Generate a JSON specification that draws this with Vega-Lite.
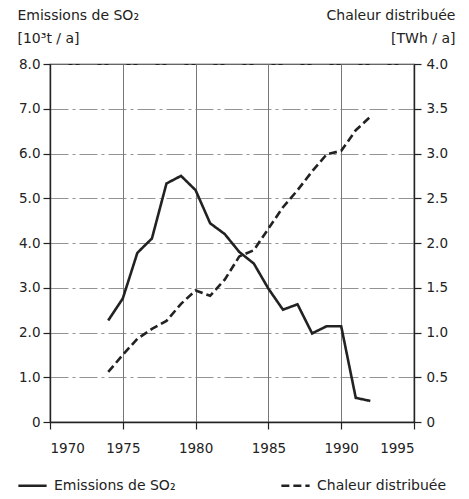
{
  "$schema": "https://vega.github.io/schema/vega-lite/v6.json",
  "width": 364,
  "height": 358,
  "autosize": "none",
  "padding": {"left": 50, "top": 64, "right": 55, "bottom": 77},
  "background": "white",
  "config": {
    "font": "DejaVu Sans",
    "view": {"stroke": "#222", "strokeWidth": 1.2},
    "axis": {
      "labelFont": "DejaVu Sans",
      "labelFontSize": 13.5,
      "labelColor": "#222",
      "titleFont": "DejaVu Sans",
      "titleFontSize": 14,
      "titleFontWeight": "normal",
      "titleColor": "#222",
      "domainColor": "#222",
      "domainWidth": 1.4,
      "tickColor": "#222",
      "tickWidth": 1.2,
      "tickSize": 7
    },
    "legend": {
      "labelFont": "DejaVu Sans",
      "labelFontSize": 14,
      "labelColor": "#222"
    }
  },
  "data": {
    "values": [
      {"year": 1974, "so2": 2.27, "heat": 0.56},
      {"year": 1975, "so2": 2.76, "heat": 0.75},
      {"year": 1976, "so2": 3.78, "heat": 0.93},
      {"year": 1977, "so2": 4.1, "heat": 1.04},
      {"year": 1978, "so2": 5.33, "heat": 1.13},
      {"year": 1979, "so2": 5.5, "heat": 1.32},
      {"year": 1980, "so2": 5.18, "heat": 1.47},
      {"year": 1981, "so2": 4.44, "heat": 1.41},
      {"year": 1982, "so2": 4.2, "heat": 1.59},
      {"year": 1983, "so2": 3.8, "heat": 1.85},
      {"year": 1984, "so2": 3.54, "heat": 1.92},
      {"year": 1985, "so2": 2.98, "heat": 2.16},
      {"year": 1986, "so2": 2.51, "heat": 2.4},
      {"year": 1987, "so2": 2.63, "heat": 2.59},
      {"year": 1988, "so2": 1.98, "heat": 2.8},
      {"year": 1989, "so2": 2.14, "heat": 2.99},
      {"year": 1990, "so2": 2.14, "heat": 3.03},
      {"year": 1991, "so2": 0.54, "heat": 3.26},
      {"year": 1992, "so2": 0.47, "heat": 3.41}
    ]
  },
  "encoding": {
    "x": {
      "field": "year",
      "type": "quantitative",
      "scale": {"domain": [1970, 1995], "nice": false, "zero": false},
      "axis": {
        "title": null,
        "values": [1970, 1975, 1980, 1985, 1990, 1995],
        "format": "d",
        "labelPadding": 12,
        "grid": true,
        "gridColor": "#555",
        "gridWidth": 0.8
      }
    }
  },
  "layer": [
    {
      "mark": {"type": "line", "color": "#222", "strokeWidth": 2.6},
      "encoding": {
        "y": {
          "field": "so2",
          "type": "quantitative",
          "scale": {"domain": [0, 8], "nice": false},
          "axis": {
            "orient": "left",
            "values": [0, 1, 2, 3, 4, 5, 6, 7, 8],
            "labelExpr": "datum.value == 0 ? '0' : format(datum.value, '.1f')",
            "labelPadding": 3,
            "grid": true,
            "gridColor": "#777",
            "gridWidth": 0.8,
            "gridDash": [18, 4, 3, 4],
            "title": ["Emissions de SO₂", "[10³t / a]"],
            "titleAngle": 0,
            "titleAlign": "left",
            "titleBaseline": "alphabetic",
            "titleX": -33,
            "titleY": -45,
            "titleLineHeight": 23
          }
        },
        "strokeDash": {
          "datum": "Emissions de SO₂",
          "type": "nominal",
          "scale": {
            "domain": ["Emissions de SO₂", "Chaleur distribuée"],
            "range": [[1, 0], [8, 4]]
          },
          "legend": {
            "title": null,
            "orient": "none",
            "legendX": -33,
            "legendY": 406,
            "direction": "horizontal",
            "columns": 2,
            "columnPadding": 100,
            "symbolType": "stroke",
            "symbolSize": 800,
            "symbolStrokeWidth": 2.6,
            "symbolStrokeColor": "#222",
            "labelOffset": 6
          }
        }
      }
    },
    {
      "mark": {"type": "line", "color": "#222", "strokeWidth": 2.6},
      "encoding": {
        "y": {
          "field": "heat",
          "type": "quantitative",
          "scale": {"domain": [0, 4], "nice": false},
          "axis": {
            "orient": "right",
            "values": [0, 0.5, 1, 1.5, 2, 2.5, 3, 3.5, 4],
            "labelExpr": "datum.value == 0 ? '0' : format(datum.value, '.1f')",
            "labelPadding": 5,
            "grid": false,
            "title": ["Chaleur distribuée", "[TWh / a]"],
            "titleAngle": 0,
            "titleAlign": "right",
            "titleBaseline": "alphabetic",
            "titleX": 41,
            "titleY": -45,
            "titleLineHeight": 23
          }
        },
        "strokeDash": {"datum": "Chaleur distribuée", "type": "nominal"}
      }
    }
  ],
  "resolve": {"scale": {"y": "independent"}}
}
